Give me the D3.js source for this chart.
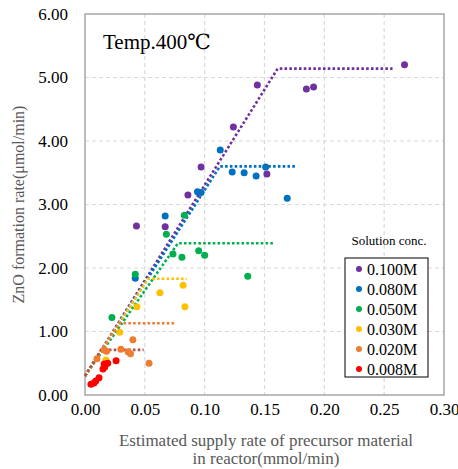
<!DOCTYPE html>
<html>
<head>
<meta charset="utf-8">
<script src="https://cdn.jsdelivr.net/npm/d3@7"></script>
<style>
  body { margin: 0; background: #fff; }
  svg { display: block; }
  text { font-family: "Liberation Serif", "DejaVu Serif", serif; }
</style>
</head>
<body>
<svg id="chart" width="458" height="469"></svg>
<script>
// series names + colours (legend order)
const seriesNames = ["0.100M", "0.080M", "0.050M", "0.030M", "0.020M", "0.008M"];
const seriesColors = ["#7030a0", "#0070c0", "#00b050", "#ffc000", "#ed7d31", "#ff0000"];
const lineColors = ["#7030a0", "#0070c0", "#00b050", "#ffc000", "#ed7d31", "#b5504a"];

// measured points [supply rate, formation rate]
const pts100 = [[0.043,2.66],[0.067,2.65],[0.086,3.15],[0.097,3.59],[0.124,4.22],[0.144,4.88],[0.152,3.48],[0.185,4.82],[0.191,4.85],[0.267,5.20]];
const pts080 = [[0.042,1.84],[0.067,2.82],[0.094,3.20],[0.097,3.19],[0.113,3.86],[0.123,3.51],[0.133,3.50],[0.143,3.45],[0.151,3.59],[0.169,3.10]];
const pts050 = [[0.0225,1.22],[0.042,1.90],[0.068,2.53],[0.0735,2.22],[0.081,2.17],[0.083,2.83],[0.095,2.27],[0.100,2.20],[0.136,1.87]];
const pts030 = [[0.0175,0.55],[0.029,0.99],[0.0434,1.39],[0.0626,1.61],[0.082,1.73],[0.0835,1.39]];
const pts020 = [[0.010,0.57],[0.016,0.71],[0.018,0.69],[0.030,0.72],[0.036,0.68],[0.038,0.65],[0.040,0.87],[0.0535,0.50]];
const pts008 = [[0.005,0.17],[0.0075,0.19],[0.009,0.22],[0.0117,0.27],[0.015,0.41],[0.0165,0.44],[0.016,0.49],[0.019,0.50],[0.026,0.54]];

// dotted guide lines: start, kink, end of plateau
const line100 = [[0,0.30],[0.161,5.14],[0.257,5.14]];
const line080 = [[0,0.30],[0.1127,3.60],[0.177,3.60]];
const line050 = [[0,0.30],[0.0777,2.39],[0.157,2.39]];
const line030 = [[0,0.30],[0.0526,1.83],[0.085,1.83]];
const line020 = [[0,0.30],[0.0285,1.13],[0.075,1.13]];
const line008 = [[0,0.30],[0.0135,0.71],[0.049,0.71]];

const xTicks = [0, 0.05, 0.10, 0.15, 0.20, 0.25, 0.30];
const yTicks = [0, 1, 2, 3, 4, 5, 6];

const allPts = [pts100, pts080, pts050, pts030, pts020, pts008];
const allLines = [line100, line080, line050, line030, line020, line008];

const svg = d3.select("#chart");
const pLeft = 85, pRight = 444, pTop = 14, pBottom = 395;

const x = d3.scaleLinear().domain([0, 0.30]).range([pLeft, pRight]);
const y = d3.scaleLinear().domain([0, 6]).range([pBottom, pTop]);

// grid
const grid = svg.append("g");
grid.selectAll(".gx").data(xTicks.slice(1, -1)).join("line")
  .attr("x1", d => x(d)).attr("x2", d => x(d))
  .attr("y1", pTop).attr("y2", pBottom)
  .attr("stroke", "#d9d9d9").attr("stroke-width", 1.2).attr("stroke-dasharray", "4,3");
grid.selectAll(".gy").data(yTicks.slice(1, -1)).join("line")
  .attr("y1", d => y(d)).attr("y2", d => y(d))
  .attr("x1", pLeft).attr("x2", pRight)
  .attr("stroke", "#d9d9d9").attr("stroke-width", 1.2).attr("stroke-dasharray", "4,3");

// frame
svg.append("rect")
  .attr("x", pLeft).attr("y", pTop)
  .attr("width", pRight - pLeft).attr("height", pBottom - pTop)
  .attr("fill", "none").attr("stroke", "#a6a6a6").attr("stroke-width", 1.5);

// axes
const xAxis = svg.append("g").attr("transform", `translate(0,${pBottom})`)
  .call(d3.axisBottom(x).tickValues(xTicks).tickFormat(d3.format(".2f")).tickSize(0).tickPadding(8));
const yAxis = svg.append("g").attr("transform", `translate(${pLeft},0)`)
  .call(d3.axisLeft(y).tickValues(yTicks).tickFormat(d3.format(".2f")).tickSize(0).tickPadding(17));
[xAxis, yAxis].forEach(a => {
  a.select(".domain").remove();
  a.attr("font-family", null);
  a.selectAll("text").attr("font-size", 17).attr("fill", "#000");
});

// guide lines (purple at the bottom, red on top)
const lineGen = d3.line().x(d => x(d[0])).y(d => y(d[1]));
allLines.forEach((ln, i) => {
  svg.append("path").datum(ln)
    .attr("d", lineGen)
    .attr("fill", "none")
    .attr("stroke", lineColors[i])
    .attr("stroke-width", 2.6)
    .attr("stroke-dasharray", "2.6,2.2");
});

// points
allPts.forEach((pts, i) => {
  svg.append("g").selectAll("circle").data(pts).join("circle")
    .attr("cx", d => x(d[0])).attr("cy", d => y(d[1]))
    .attr("r", 3.5)
    .attr("fill", seriesColors[i]);
});

// temperature label
svg.append("text").attr("x", 103).attr("y", 49)
  .attr("font-size", 21).attr("fill", "#000").text("Temp.400℃");

// axis titles
svg.append("text")
  .attr("transform", `translate(24,${(pTop + pBottom) / 2}) rotate(-90)`)
  .attr("text-anchor", "middle").attr("font-size", 16).attr("fill", "#595959")
  .text("ZnO formation rate(μmol/min)");
svg.append("text").attr("x", 266).attr("y", 446)
  .attr("text-anchor", "middle").attr("font-size", 17).attr("fill", "#595959")
  .text("Estimated supply rate of precursor material");
svg.append("text").attr("x", 266).attr("y", 464)
  .attr("text-anchor", "middle").attr("font-size", 17).attr("fill", "#595959")
  .text("in reactor(mmol/min)");

// legend
svg.append("text").attr("x", 389).attr("y", 245)
  .attr("text-anchor", "middle").attr("font-size", 13).attr("fill", "#000")
  .text("Solution conc.");
const legend = svg.append("g");
legend.append("rect")
  .attr("x", 345).attr("y", 258).attr("width", 83).attr("height", 119)
  .attr("fill", "#fff").attr("stroke", "#000").attr("stroke-width", 1);
const rows = legend.selectAll("g.row").data(seriesNames).join("g")
  .attr("transform", (d, i) => `translate(0,${269 + i * 20})`);
rows.append("circle").attr("cx", 359).attr("cy", 0).attr("r", 3)
  .attr("fill", (d, i) => seriesColors[i]);
rows.append("text").attr("x", 367).attr("y", 6)
  .attr("font-size", 16).attr("fill", "#000").text(d => d);
</script>
</body>
</html>
